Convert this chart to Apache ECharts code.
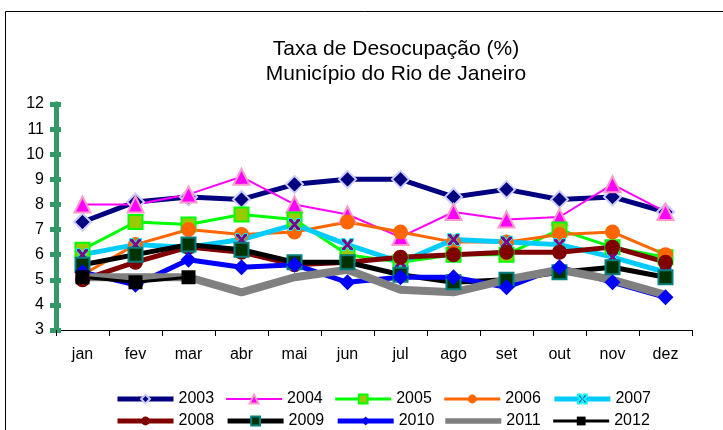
<!DOCTYPE html>
<html><head><meta charset="utf-8">
<script src="https://cdn.jsdelivr.net/npm/echarts@6/dist/echarts.min.js"></script>
<style>html,body{margin:0;padding:0;background:#fff}#c{width:723px;height:430px}</style>
</head><body><div id="c"></div>
<script>
const months = ['jan','fev','mar','abr','mai','jun','jul','ago','set','out','nov','dez'];
const yTicks = [3,4,5,6,7,8,9,10,11,12];
const y2003 = [7.3, 8.1, 8.3, 8.2, 8.8, 9.0, 9.0, 8.3, 8.6, 8.2, 8.3, 7.7];
const y2004 = [8.0, 8.0, 8.4, 9.1, 8.0, 7.6, 6.7, 7.7, 7.4, 7.5, 8.8, 7.7];
const y2005 = [6.2, 7.3, 7.2, 7.6, 7.4, 6.0, 5.7, 6.0, 6.0, 7.0, 6.3, 5.9];
const y2006 = [5.2, 6.4, 7.0, 6.8, 6.9, 7.3, 6.9, 6.5, 6.5, 6.8, 6.9, 6.0];
const y2007 = [6.0, 6.4, 6.3, 6.6, 7.2, 6.4, 5.7, 6.6, 6.5, 6.4, 5.9, 5.3];
const y2008 = [5.0, 5.7, 6.3, 6.1, 5.6, 5.7, 5.9, 6.0, 6.1, 6.1, 6.3, 5.7];
const y2009 = [5.6, 6.0, 6.4, 6.2, 5.7, 5.7, 5.2, 4.9, 5.0, 5.3, 5.5, 5.1];
const y2010 = [5.3, 4.8, 5.8, 5.5, 5.6, 4.9, 5.1, 5.1, 4.7, 5.5, 4.9, 4.3];
const y2011 = [5.1, 5.1, 5.1, 4.5, 5.1, 5.4, 4.6, 4.5, 5.0, 5.4, 5.0, 4.4];
const y2012 = [5.1, 4.9, 5.1];

const xPath = 'path://M0,0 L3,0 L5,3 L7,0 L10,0 L10,2 L7,5 L10,8 L10,10 L7,10 L5,7 L3,10 L0,10 L0,8 L3,5 L0,2 Z';

const styles = {};
function ser(name, data, lineColor, lineWidth, symbol, size, fill, border, bw) {
  styles[name] = { lineColor, lineWidth, symbol, fill: fill || lineColor, border: border || fill || lineColor, bw: bw || 0 };
  return {
    name, type: 'line', data,
    symbol: symbol || 'none', symbolSize: size || 0, showSymbol: !!symbol,
    lineStyle: { color: lineColor, width: lineWidth },
    itemStyle: { color: fill || lineColor, borderColor: border || fill || lineColor, borderWidth: bw || 0 },
    emphasis: { disabled: true }, animation: false
  };
}

const series = [
  ser('2003', y2003, '#000080', 5, 'diamond', 17, '#000080', '#CCCCFF', 2),
  ser('2004', y2004, '#FF00FF', 2, 'triangle', 16, '#FF00FF', '#FF99CC', 2),
  ser('2005', y2005, '#00FF00', 3, 'rect', 14, '#99CC00', '#00FF00', 2),
  ser('2006', y2006, '#FF6600', 3, 'circle', 15, '#FF6600', '#FF6600', 0),
  ser('2007', y2007, '#00CCFF', 5, xPath, 12, '#800080', '#00FFFF', 1),
  ser('2008', y2008, '#800000', 5, 'circle', 15, '#800000', '#800000', 0),
  ser('2009', y2009, '#000000', 5, 'rect', 14, '#003300', '#008080', 2),
  ser('2010', y2010, '#0000FF', 5, 'diamond', 16, '#0000FF', '#0000FF', 0),
  ser('2011', y2011, '#808080', 8, null),
  ser('2012', y2012, '#000000', 3, 'rect', 14, '#000000', '#000000', 0)
];

function legendItems(names) {
  return names.map(n => {
    const s = styles[n];
    const item = { name: n, lineStyle: { width: s.lineWidth, color: s.lineColor } };
    if (!s.symbol) {
      item.icon = 'path://M0,0 H100 V10 H0 Z';
      item.itemStyle = { color: s.lineColor, borderWidth: 0 };
    }
    return item;
  });
}

const chart = echarts.init(document.getElementById('c'), null, { renderer: 'canvas' });
const legendText = { fontFamily: 'Liberation Sans, Arial', fontSize: 16, color: '#000' };
chart.setOption({
  animation: false,
  title: {
    text: 'Taxa de Desocupação (%)\nMunicípio do Rio de Janeiro',
    left: 391, top: 32, textAlign: 'center',
    textStyle: { fontFamily: 'Liberation Sans, Arial', fontSize: 21, fontWeight: 'normal', color: '#000', lineHeight: 25 }
  },
  graphic: [{ type: 'rect', shape: { x: 5.5, y: 11.5, width: 800, height: 500 }, style: { fill: 'none', stroke: '#000', lineWidth: 1 }, silent: true }],
  grid: { left: 56, right: 31, top: 104, bottom: 100 },
  legend: [
    { data: legendItems(['2003','2004','2005','2006','2007']), left: 115, top: 391, padding: 0, itemWidth: 56, itemHeight: 11, itemGap: 11, textStyle: legendText, selectedMode: false },
    { data: legendItems(['2008','2009','2010','2011','2012']), left: 115, top: 413, padding: 0, itemWidth: 56, itemHeight: 11, itemGap: 11, textStyle: legendText, selectedMode: false }
  ],
  xAxis: {
    type: 'category', data: months, boundaryGap: true,
    axisLine: { lineStyle: { color: '#000', width: 1 } },
    axisTick: { show: true, length: 6, lineStyle: { color: '#000' }, alignWithLabel: false },
    axisLabel: { fontFamily: 'Liberation Sans, Arial', fontSize: 16, color: '#000', margin: 17 },
    splitLine: { show: false }
  },
  yAxis: [
    {
      type: 'value', min: 3, max: 12, interval: 1,
      axisLine: { show: true, lineStyle: { color: '#339966', width: 5 } },
      axisTick: { show: true, length: 6, lineStyle: { color: '#339966', width: 5 } },
      axisLabel: { fontFamily: 'Liberation Sans, Arial', fontSize: 16, color: '#000', margin: 12, formatter: v => yTicks.includes(v) ? String(v) : '' },
      splitLine: { show: false }
    },
    {
      type: 'value', min: 3, max: 12, interval: 1, position: 'left',
      axisLine: { show: true, lineStyle: { color: '#339966', width: 5 } },
      axisTick: { show: true, inside: true, length: 5, lineStyle: { color: '#339966', width: 5 } },
      axisLabel: { show: false }, splitLine: { show: false }
    }
  ],
  series
});
</script></body></html>
